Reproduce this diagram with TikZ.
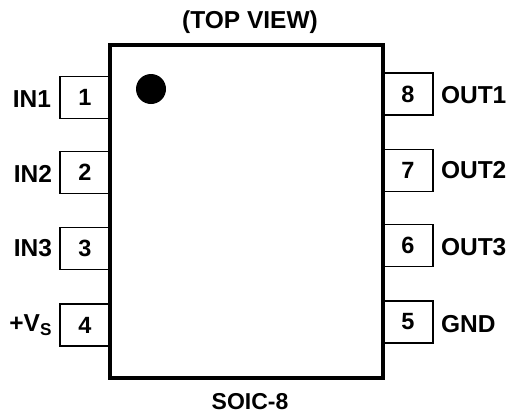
\documentclass[tikz,border=0pt]{standalone}
\usepackage{fontspec}
\setmainfont{Liberation Sans}
\usetikzlibrary{positioning}
\tikzset{
chipbody/.style={draw,line width=4pt,minimum width=273pt,minimum height=333pt,inner sep=0pt,outer sep=0pt},
pinbox/.style={draw,line width=1.6pt,minimum width=50pt,minimum height=42pt,inner sep=0pt,outer sep=0pt,font=\fontsize{23.5}{26}\selectfont\bfseries},
pinlabel/.style={inner sep=0pt,outer sep=0pt,font=\fontsize{24.5}{26}\selectfont\bfseries},
chipdot/.style={circle,fill=black,minimum size=30pt,inner sep=0pt,outer sep=0pt}
}
\begin{document}
\begin{tikzpicture}[x=1pt,y=1pt]
\useasboundingbox (0,0) rectangle (510,-416);
\node[pinbox] (p1) at (85,-97.5){1};
\node[pinbox,below=33pt of p1] (p2){2};
\node[pinbox,below=34pt of p2] (p3){3};
\node[pinbox,below=34.5pt of p3] (p4){4};
\node[pinbox] (p8) at (408,-94){8};
\node[pinbox,below=34.5pt of p8] (p7){7};
\node[pinbox,below=33pt of p7] (p6){6};
\node[pinbox,below=34.5pt of p6] (p5){5};
\node[chipbody,fill=white] (chip) at (246.5,-211.5){};
\node[chipdot] (dot) at (151,-89){};
\node[pinlabel,left=9pt of p1,yshift=-2pt] (in1){IN1};
\node[pinlabel,left=8pt of p2,yshift=-1pt] (in2){IN2};
\node[pinlabel,left=8pt of p3] (in3){IN3};
\node[pinlabel,left=8pt of p4] (vs){+V\textsubscript{S}};
\node[pinlabel,right=8pt of p8,yshift=-1pt] (out1){OUT1};
\node[pinlabel,right=8pt of p7] (out2){OUT2};
\node[pinlabel,right=8pt of p6,yshift=-2pt] (out3){OUT3};
\node[pinlabel,right=8pt of p5,yshift=-2pt] (gnd){GND};
\node[pinlabel,above=11pt of chip,xshift=3.5pt] (top){(TOP VIEW)};
\node[pinlabel,below=15pt of chip,xshift=3.5pt,font=\fontsize{23}{26}\selectfont\bfseries] (soic){SOIC-8};
\end{tikzpicture}
\end{document}
